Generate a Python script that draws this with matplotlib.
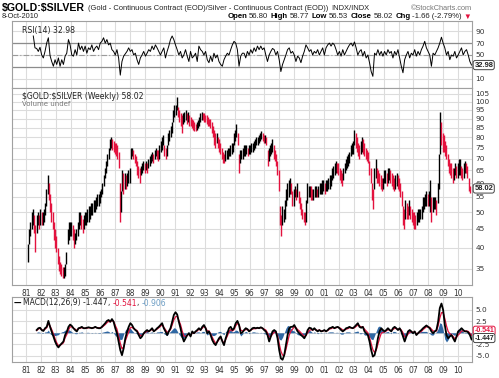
import numpy as np
import pandas as pd
import matplotlib
matplotlib.use("Agg")
import matplotlib.pyplot as plt
from matplotlib.ticker import FixedLocator, FixedFormatter, NullLocator

# monthly bar ranges of the weekly $GOLD:$SILVER chart, Feb 1981 .. Oct 2010
lows = [
    36.5, 41, 43, 45, 46, 44, 39, 44, 46, 45, 46,        # 1981 (from Feb)
    46, 46, 47, 49, 52, 56, 54, 50, 47, 45, 42, 40,      # 1982
    39, 36, 34.5, 34, 33.5, 33, 33, 33.5, 36, 41, 42, 43,  # 1983
    43, 42, 40, 41, 42, 43, 45, 46, 45, 44, 45, 46,      # 1984
    46, 47, 47, 48, 49, 49, 50, 50, 51, 52, 52, 53,      # 1985
    55, 56, 59, 62, 64, 67, 70, 74, 75, 74, 73, 72,      # 1986
    71, 70, 66, 47, 50, 57, 56, 58, 58, 59, 60, 60,      # 1987
    70, 71, 70, 68, 67, 63, 62, 60, 63, 64, 65, 64,      # 1988
    65, 64, 66, 67, 68, 69, 68, 70, 71, 70, 69, 70,      # 1989
    73, 74, 76, 71, 70, 71, 76, 78, 80, 82, 88, 91,      # 1990
    92, 95, 91, 88, 86, 82, 87, 88, 89, 87, 88, 86,      # 1991
    86, 85, 84, 83, 83, 84, 85, 86, 88, 89, 89, 88,      # 1992
    88, 87, 86, 86, 85, 82, 80, 76, 75, 77, 75, 73,      # 1993
    72, 70, 68, 68, 69, 70, 70, 71, 71, 72, 73, 76,      # 1994
    78, 80, 76, 64, 68, 70, 70, 71, 71, 72, 71, 72,      # 1995
    72, 73, 73, 74, 75, 76, 76, 77, 78, 79, 78, 77,      # 1996
    77, 76, 67, 69, 71, 72, 73, 70, 69, 67, 63, 57,      # 1997
    46, 43, 46, 47, 48, 52, 54, 55, 56, 56, 52, 52,      # 1998
    55, 54, 55, 53, 51, 49, 48, 47, 46, 47, 53, 55,      # 1999
    55, 54, 54, 54, 55, 55, 55, 55, 56, 56, 56, 57,      # 2000
    56, 57, 57, 58, 58, 59, 61, 62, 63, 64, 64, 63,      # 2001
    61, 60, 59, 61, 64, 65, 66, 67, 68, 71, 72, 72,      # 2002
    76, 75, 73, 71, 70, 72, 73, 72, 71, 70, 69, 68,      # 2003
    63, 60, 54, 51, 58, 62, 60, 60, 59, 58, 57, 58,      # 2004
    60, 60, 59, 60, 61, 60, 59, 58, 57, 58, 59, 58,      # 2005
    57, 55, 52, 46, 45, 48, 48, 48, 49, 48, 47, 46,      # 2006
    45, 45, 46, 47, 47, 48, 48, 50, 51, 52, 52, 52,      # 2007
    52, 50, 47, 50, 51, 51, 49, 53, 58, 72, 76, 73,      # 2008
    73, 71, 70, 67, 64, 63, 62, 60, 61, 63, 62, 62,      # 2009
    63, 63, 62, 61, 62, 64, 64, 62, 57, 56.5,            # 2010 (to Oct)
]
highs = [
    41, 45, 47, 50, 51, 49, 46, 49, 50, 49, 51,          # 1981
    50, 50, 51, 53, 58, 63, 60, 56, 53, 50, 47, 45,      # 1982
    43, 40, 38, 36.5, 36, 35.5, 35.5, 36, 39, 45, 47, 47,  # 1983
    47, 46, 45, 44, 45, 47, 50, 50, 49, 48, 49, 50,      # 1984
    50, 51, 52, 52, 53, 53, 54, 54, 55, 56, 56, 57,      # 1985
    58, 60, 63, 66, 69, 72, 75, 79, 80, 79, 78, 77,      # 1986
    77, 76, 73, 60, 57, 65, 64, 64, 63, 64, 65, 66,      # 1987
    75, 75, 74, 72, 71, 69, 67, 66, 67, 68, 69, 68,      # 1988
    69, 68, 70, 71, 72, 73, 72, 74, 75, 74, 74, 76,      # 1989
    78, 80, 81, 76, 75, 76, 82, 84, 86, 88, 95, 98,      # 1990
    98, 103, 97, 95, 93, 92, 93, 94, 95, 93, 94, 92,     # 1991
    91, 90, 89, 88, 87, 88, 89, 91, 93, 94, 93, 93,      # 1992
    92, 92, 91, 90, 90, 88, 86, 84, 82, 82, 80, 79,      # 1993
    77, 75, 73, 72, 74, 74, 75, 75, 76, 77, 77, 82,      # 1994
    84, 87, 82, 72, 74, 74, 75, 76, 76, 76, 75, 76,      # 1995
    76, 77, 77, 78, 79, 80, 80, 81, 82, 83, 82, 81,      # 1996
    81, 80, 74, 75, 76, 77, 79, 76, 74, 72, 69, 65,      # 1997
    52, 49, 52, 51, 54, 58, 60, 61, 62, 60, 57, 58,      # 1998
    59, 58, 60, 57, 55, 53, 51, 50, 50, 54, 60, 59,      # 1999
    59, 59, 58, 58, 59, 59, 58, 59, 60, 60, 61, 61,      # 2000
    60, 61, 61, 62, 63, 63, 66, 67, 68, 69, 68, 68,      # 2001
    66, 65, 64, 66, 68, 70, 71, 72, 73, 76, 77, 78,      # 2002
    84, 82, 80, 77, 76, 78, 80, 79, 77, 75, 74, 73,      # 2003
    69, 66, 60, 58, 66, 70, 66, 65, 64, 63, 62, 62,      # 2004
    65, 65, 64, 66, 66, 65, 64, 63, 62, 63, 64, 63,      # 2005
    62, 60, 57, 52, 51, 54, 53, 52, 54, 52, 51, 50,      # 2006
    50, 49, 50, 51, 51, 51, 52, 55, 55, 56, 57, 56,      # 2007
    57, 61, 55, 55, 55, 55, 54, 60, 72, 94, 88, 82,      # 2008
    81, 78, 76, 72, 70, 68, 68, 66, 66, 68, 67, 68,      # 2009
    70, 70, 67, 66, 68, 69, 68, 67, 62, 59,              # 2010
]

# RSI(14), sampled about every 41 days from mid 1981
rsi = [
    82, 62, 61, 56, 63, 50, 45, 56, 70, 79, 49, 39, 31, 42, 34, 45, 31, 42, 34, 48,
    53, 76, 67, 50, 48, 59, 50, 70, 59, 65, 56, 65, 53, 62, 59, 67, 56, 62, 65, 59,
    70, 73, 79, 70, 76, 67, 70, 59, 56, 50, 59, 45, 16, 39, 48, 52, 56, 62, 56, 59,
    50, 53, 42, 34, 45, 50, 56, 48, 53, 59, 56, 65, 59, 67, 62, 56, 50, 56, 62, 45,
    56, 65, 76, 82, 76, 67, 59, 50, 56, 45, 50, 59, 48, 39, 56, 45, 48, 53, 39, 65,
    59, 56, 50, 56, 42, 37, 48, 39, 53, 45, 50, 39, 34, 31, 42, 48, 53, 50, 59, 67,
    73, 70, 59, 31,
    48, 53, 53, 45, 56, 50, 59, 53, 62, 56, 65, 59, 65, 59, 62, 50, 39, 50, 56, 61,
    59, 50, 56, 42, 22, 34, 42, 50, 59, 62, 53, 56, 50, 39, 48, 45, 37, 48, 56, 67,
    62, 56, 59, 50, 56, 53, 59, 50, 56, 62, 50, 62, 67, 70, 65, 70, 67, 59, 50, 56,
    48, 59, 50, 56, 62, 67, 70, 65, 72, 62, 50, 56, 59, 48, 56, 45, 50, 37, 22, 14,
    53, 50, 59, 50, 56, 48, 56, 50, 59, 53, 56, 45, 56, 50, 59, 45, 31, 20, 42, 50,
    56, 45, 53, 50, 59, 48, 56, 50, 59, 65, 73, 62, 56, 50, 31, 53, 50, 56, 62, 70,
    80, 70, 62, 50, 56, 42, 50, 48, 56, 45, 50, 56, 62, 50, 56, 59, 50, 39, 32.98,
]

# MACD(12,26,9) line and histogram, same sampling, from late 1981
macd = [
    0.6, 1.0, 1.1, 0.6, 0.4, 1.0, 1.3, 2.6, 1.3, 0.2, -0.8, -1.9, -2.7, -3.2, -2.7, -2.3, -1.9, -0.5, 0.2, 1.3,
    1.8, 1.5, 1.0, 0.6, 0.3, 1.0, 1.1, 1.3, 1.0, 1.0, 1.1, 1.2, 1.1, 1.0, 1.1, 1.3, 1.1, 1.0, 1.0, 1.3,
    1.7, 2.1, 2.6, 2.8, 2.4, 3.0, 2.4, 1.0, -0.1, -1.9, -3.8, -4.9, -3.4, -1.2, 0.2, 1.3, 2.1, 1.7, 1.0, 0.6,
    0.3, -0.5, -1.2, -0.8, -0.1, 0.3, 0.6, 0.3, 0.6, 1.0, 0.3, 0.6, 1.0, 1.3, 1.7, 2.1, 1.0, 0.3, -0.5, 0.3,
    1.0, 2.4, 3.9, 4.5, 4.0, 2.4, 1.0, -0.8, -1.9, -1.2, -0.5, -0.1, -0.8, 0.3, -0.1, 0.3, 0.6, 1.0, 0.6, 1.3,
    1.7, 1.0, -0.1, 0.3, -0.5, -1.6, -2.3, -2.7, -1.9, -1.2, -0.8, -1.9, -2.7, -1.2, -0.1, 1.0, 1.3, 0.6, 1.0, 2.1,
    2.6, 1.7,
    -0.1, 0.1, 0.6, 1.0, 0.8, 0.3, 0.6, 1.0, 1.1, 1.0, 1.1, 1.0, 1.2, 1.0, 0.6, 0.3, -0.5, -1.9, -0.8, 0.3,
    0.6, 0.3, -1.2, -3.8, -5.6, -5.9, -4.9, -2.7, -0.5, 1.0, 1.3, 1.3, 1.7, 1.0, 0.3, -0.1, -0.5, -0.8, -1.2, -0.5,
    0.6, 1.1, 1.0, 0.6, 1.0, 0.6, 0.3, 0.6, 0.3, 0.4, 0.6, 0.3, 0.6, 1.0, 1.1, 1.3, 1.0, 1.2, 1.3, 1.0,
    0.6, 0.3, 0.6, 1.0, 1.1, 1.3, 1.1, 1.0, 1.3, 1.7, 2.1, 1.3, 1.1, 1.3, 0.3, -0.1, -0.5, -1.9, -3.8, -5.2,
    -4.9, -3.4, -1.2, 0.3, 1.0, 0.6, 0.3, 0.6, 1.0, 0.6, 0.3, 1.0, 1.3, 1.0, 0.6, 1.0, 0.3, -0.8, -1.9, -0.8,
    0.3, 0.6, 0.3, -0.1, 0.3, -0.5, -0.1, 0.3, 0.6, 1.0, 1.3, 1.6, 1.3, 1.0, 0.3, -0.1, 0.3, 0.6, 2.4, 5.4,
    6.4, 5.0, 1.7, -0.5, -1.2, -0.8, -0.5, -1.2, -1.9, -0.8, 0.3, 0.6, 1.0, 0.6, 0.3, 0.3, 0.1, -0.5, -1.447,
]
hist = [
    0.1, 0.2, 0.1, -0.1, -0.1, 0.2, 0.2, 0.6, -0.2, -0.5, -0.6, -0.6, -0.5, -0.4, 0.0, 0.2, 0.3, 0.6, 0.6, 0.7,
    0.5, 0.2, 0.0, -0.2, -0.2, 0.1, 0.1, 0.2, 0.0, 0.0, 0.1, 0.1, 0.0, -0.1, 0.0, 0.1, 0.0, -0.1, -0.1, 0.1,
    0.2, 0.3, 0.4, 0.3, 0.0, 0.3, -0.1, -0.6, -0.9, -1.2, -1.5, -1.4, -0.3, 0.6, 1.0, 1.1, 1.0, 0.5, 0.1, -0.1,
    -0.2, -0.4, -0.6, -0.2, 0.1, 0.2, 0.3, 0.0, 0.1, 0.2, -0.1, 0.0, 0.2, 0.2, 0.3, 0.3, -0.2, -0.4, -0.6, 0.0,
    0.3, 0.7, 1.1, 1.0, 0.4, -0.3, -0.8, -1.2, -1.2, -0.4, 0.1, 0.2, -0.2, 0.3, 0.0, 0.1, 0.2, 0.2, 0.0, 0.3,
    0.3, -0.1, -0.5, -0.1, -0.3, -0.6, -0.6, -0.4, 0.1, 0.3, 0.3, -0.2, -0.4, 0.3, 0.6, 0.8, 0.6, 0.2, 0.3, 0.6,
    0.5, 0.0,
    -0.7, -0.3, 0.1, 0.3, 0.1, -0.2, 0.0, 0.2, 0.2, 0.1, 0.1, 0.0, 0.1, 0.0, -0.2, -0.3, -0.5, -1.0, 0.0, 0.6,
    0.5, 0.1, -0.6, -1.4, -1.6, -1.0, 0.0, 1.0, 1.6, 1.5, 0.9, 0.5, 0.4, -0.1, -0.4, -0.5, -0.5, -0.4, -0.4, 0.1,
    0.6, 0.6, 0.3, 0.0, 0.2, 0.0, -0.2, 0.0, -0.1, 0.0, 0.1, -0.1, 0.1, 0.2, 0.2, 0.2, 0.0, 0.1, 0.1, -0.1,
    -0.3, -0.3, 0.0, 0.2, 0.2, 0.2, 0.0, 0.0, 0.2, 0.3, 0.4, -0.2, -0.2, 0.0, -0.5, -0.5, -0.5, -0.9, -1.4, -1.5,
    -0.6, 0.4, 1.3, 1.5, 1.1, 0.5, 0.1, 0.2, 0.3, 0.0, -0.2, 0.3, 0.3, 0.1, -0.1, 0.1, -0.3, -0.8, -1.0, 0.0,
    0.6, 0.5, 0.1, -0.2, 0.1, -0.3, 0.0, 0.2, 0.3, 0.3, 0.3, 0.3, 0.0, -0.2, -0.5, -0.5, 0.0, 0.2, 0.9, 2.2,
    2.0, 0.6, -1.4, -2.0, -1.5, -0.6, -0.1, -0.4, -0.6, 0.2, 0.8, 0.7, 0.6, 0.2, -0.1, -0.1, -0.2, -0.4, -0.906,
]

years = list(range(1981, 2011))
year_labels = ["%02d" % (y % 100) for y in years]
price_ticks = [35, 40, 45, 50, 55, 60, 65, 70, 75, 80, 85, 90, 95, 100, 105]

RED = "#e3123e"
BLUE = "#2f67a3"
GRID = "#dcdcdc"
EDGE = "#a0a0a0"

# x positions in decimal years
months = pd.date_range("1981-02-01", periods=len(lows), freq="MS")
xm = months.year + (months.month - 0.5) / 12.0
step = 41 / 365.25
xr = 1981.49 + np.arange(len(rsi)) * step
xd = 1981.716 + np.arange(len(macd)) * step

lows = np.array(lows)
highs = np.array(highs)
mid = (lows + highs) / 2
cols = ["k"] + ["k" if mid[i] >= mid[i - 1] else RED for i in range(1, len(mid))]
macd = np.array(macd)
hist = np.array(hist)
signal = macd - hist

W, H = 499, 378
fig = plt.figure(figsize=(W / 100, H / 100), dpi=100)
fig.patch.set_facecolor("white")


def fx(x):
    return x / W


def fy(y):
    return 1 - y / H


def panel(top, bottom):
    ax = fig.add_axes([fx(12), fy(bottom), (472 - 12) / W, (bottom - top) / H])
    for s in ax.spines.values():
        s.set_color(EDGE)
        s.set_linewidth(0.8)
    ax.set_xlim(1980.06, 2010.93)
    ax.set_xticks(years)
    ax.xaxis.grid(True, color=GRID, lw=0.8)
    ax.set_axisbelow(True)
    ax.yaxis.tick_right()
    ax.tick_params(length=0, labelsize=5.3, labelcolor="#333333", pad=2.5)
    return ax


ax_rsi = panel(21, 88)
ax_px = panel(88, 285)
ax_macd = panel(297, 362)

# RSI
ax_rsi.set_ylim(-5.7, 107.3)
ax_rsi.set_yticks([10, 50, 70, 90])
ax_rsi.yaxis.grid(True, color=GRID, lw=0.8)
ax_rsi.axhline(70, color="#8c8c8c", lw=0.9)
ax_rsi.axhline(30, color="#8c8c8c", lw=0.9)
ax_rsi.axhline(50, color="#9a9a9a", lw=0.8, ls=(0, (5, 2, 1, 2)))
ax_rsi.plot(xr, rsi, color="k", lw=0.7)
ax_rsi.set_xticklabels([])

# price
ax_px.set_yscale("log")
ax_px.set_ylim(31.65, 109)
ax_px.yaxis.set_major_locator(FixedLocator(price_ticks))
ax_px.yaxis.set_major_formatter(FixedFormatter([str(v) for v in price_ticks]))
ax_px.yaxis.set_minor_locator(NullLocator())
ax_px.yaxis.grid(True, color=GRID, lw=0.8)
ax_px.vlines(xm, lows, highs, colors=cols, lw=1.0)
ax_px.set_xticklabels(year_labels)
ax_px.tick_params(axis="x", labelsize=5.5, pad=3)

# MACD
ax_macd.set_ylim(-6.39, 7.83)
ax_macd.set_yticks([-5, -2.5, 2.5, 5])
ax_macd.set_yticklabels(["-5.0", "-2.5", "2.5", "5.0"])
ax_macd.yaxis.grid(True, color=GRID, lw=0.8)
ax_macd.axhline(0, color=GRID, lw=0.8)
ax_macd.fill_between(xd, 0, hist, color=BLUE, lw=0, zorder=2)
ax_macd.plot(xd, signal, color=RED, lw=0.9, zorder=3)
ax_macd.plot(xd, macd, color="k", lw=1.3, zorder=4)
ax_macd.set_xticklabels(year_labels)
ax_macd.tick_params(axis="x", labelsize=5.5, pad=3)


def tag(ax, y, s, color, ec, size=5.4):
    ax.text(1.005, y, s, transform=ax.get_yaxis_transform(), fontsize=size,
            color=color, va="center", ha="left", fontweight="bold",
            family=["Liberation Sans", "DejaVu Sans"], zorder=10,
            bbox=dict(boxstyle="round,pad=0.15,rounding_size=0.3", fc="white", ec=ec, lw=0.7))


tag(ax_rsi, 32.98, "32.98", "#222222", "#444444")
tag(ax_px, 58.02, "58.02", "#222222", "#444444")
tag(ax_macd, 0.45, "-0.541", RED, RED, 5)
tag(ax_macd, -1.15, "-1.447", "#222222", "#444444", 5)

# panel captions
ax_rsi.text(0.022, 0.93, "RSI(14) 32.98", transform=ax_rsi.transAxes,
            fontsize=5.6, color="#222222", va="top")
ax_px.text(0.022, 0.98, "$GOLD:$SILVER (Weekly) 58.02", transform=ax_px.transAxes,
           fontsize=5.6, color="#222222", va="top", parse_math=False)
ax_px.text(0.022, 0.932, "Volume undef", transform=ax_px.transAxes,
           fontsize=5.0, color="#777777", va="top")

renderer = fig.canvas.get_renderer()


def runs(pieces, y, left=None, right=None, size=5.5, family="Liberation Sans"):
    items = []
    for s, bold, color, gap in pieces:
        t = fig.text(0, fy(y), s, fontsize=size, color=color, va="baseline",
                     fontweight="bold" if bold else "normal",
                     family=[family, "DejaVu Sans"], parse_math=False)
        items.append((t, t.get_window_extent(renderer).width + gap))
    total = sum(w for _, w in items)
    x = left if left is not None else right - total
    for t, w in items:
        t.set_x(fx(x))
        x += w


runs([("$GOLD:$SILVER", True, "black", 2)], 11, left=2, size=7.6)
runs([("(Gold - Continuous Contract (EOD)/Silver - Continuous Contract (EOD))", False, "#222222", 3),
      ("INDX/INDX", False, "#222222", 0)], 10.5, left=88, size=5.4)
fig.text(fx(472), fy(10.5), "\u00a9StockCharts.com", fontsize=5.3, color="#777777",
         ha="right", va="baseline", family=["Liberation Sans", "DejaVu Sans"])
fig.text(fx(2), fy(18.5), "8-Oct-2010", fontsize=5.3, color="#222222", va="baseline",
         family=["Liberation Sans", "DejaVu Sans"])
runs([("Open", True, "black", 1.5), ("56.80", False, "#222222", 3),
      ("High", True, "black", 1.5), ("58.77", False, "#222222", 3),
      ("Low", True, "black", 1.5), ("56.53", False, "#222222", 3),
      ("Close", True, "black", 1.5), ("58.02", False, "#222222", 3),
      ("Chg", True, "black", 1.5), ("-1.66 (-2.79%)", False, "#222222", 1.5),
      ("\u25bc", False, RED, 0)], 18.5, right=471, size=5.6)
runs([("\u2014", True, "black", 1.5), ("MACD(12,26,9) -1.447", False, "#222222", 0),
      (", ", False, "#222222", 0), ("-0.541", False, RED, 0),
      (", ", False, "#222222", 0), ("-0.906", False, "#6a9cc4", 0)],
     305.5, left=14, size=5.5, family="DejaVu Sans")

fig.savefig("out.png", dpi=100, facecolor="white")
